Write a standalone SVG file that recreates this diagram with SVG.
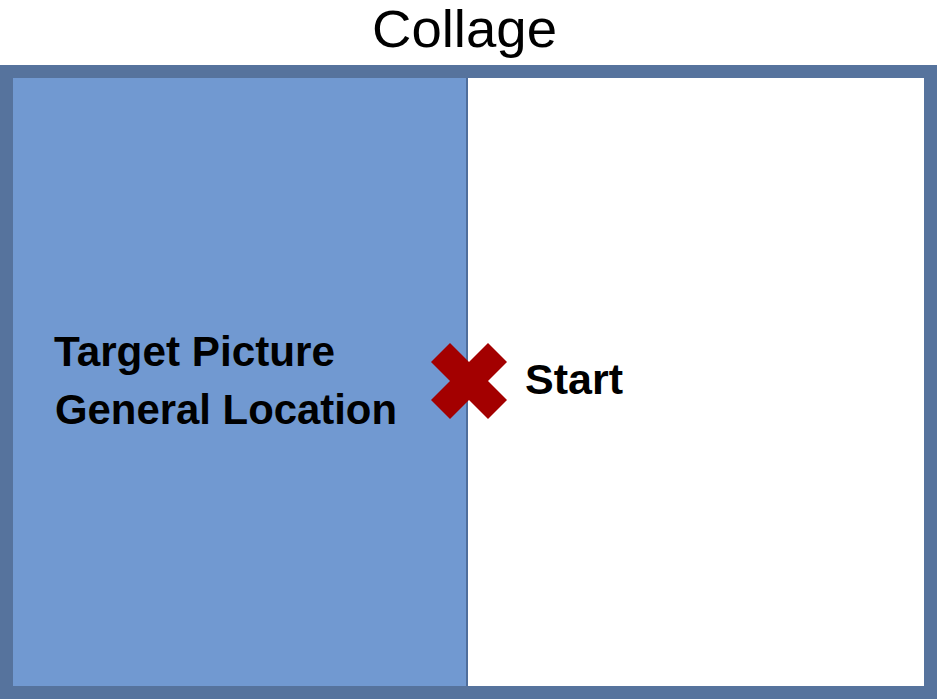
<svg xmlns="http://www.w3.org/2000/svg" width="937" height="699" viewBox="0 0 937 699">
  <style>
    .title { font-family: "Liberation Sans", Arial, sans-serif; font-size: 51px; fill: #000; }
    .label { font-family: "Liberation Sans", Arial, sans-serif; font-size: 42px; font-weight: bold; fill: #000; }
  </style>
  <rect width="937" height="699" fill="#ffffff"/>

  <text class="title" x="372" y="47" textLength="185" lengthAdjust="spacingAndGlyphs">Collage</text>

  <g id="collage-frame">
    <rect x="6.5" y="71.5" width="924" height="621" fill="#ffffff" stroke="#56739d" stroke-width="13"/>
  </g>

  <g id="target-region">
    <rect x="13" y="78" width="454" height="608" fill="#7199d1"/>
    <line x1="467" y1="78" x2="467" y2="686" stroke="#4f6e9c" stroke-width="2"/>
    <text class="label" x="54" y="366" textLength="281" lengthAdjust="spacingAndGlyphs">Target Picture</text>
    <text class="label" x="55" y="424" textLength="342" lengthAdjust="spacingAndGlyphs">General Location</text>
  </g>

  <g id="start-marker">
    <polygon fill="#a30000" points="431,362 450,343 469,362 488,343 507,362 488,381 507,400 488,419 469,400 450,419 431,400 450,381"/>
    <text class="label" x="525" y="394" textLength="98" lengthAdjust="spacingAndGlyphs">Start</text>
  </g>
</svg>
